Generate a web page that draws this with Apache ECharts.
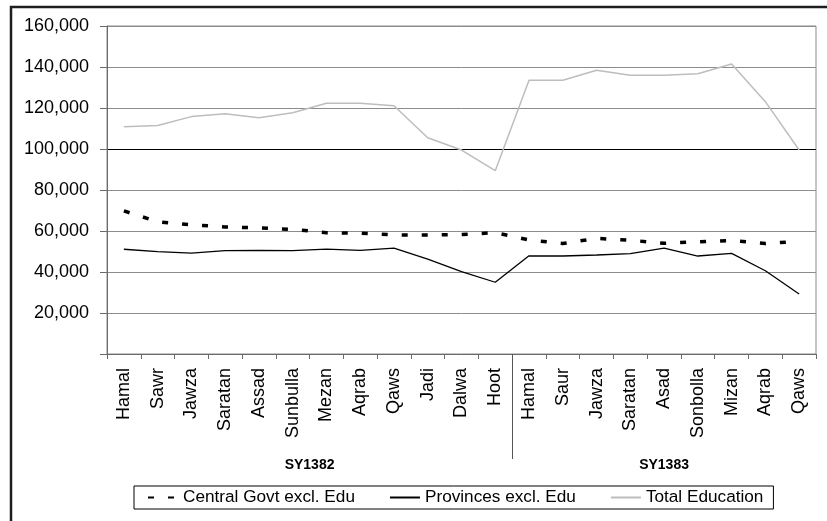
<!DOCTYPE html>
<html>
<head>
<meta charset="utf-8">
<script src="https://cdn.jsdelivr.net/npm/echarts@6/dist/echarts.min.js"></script>
<style>
  html, body { margin: 0; padding: 0; background: #fff; }
  #chart { width: 827px; height: 521px; }
</style>
</head>
<body>
<div id="chart"></div>
<script>
// Solar-year months, two fiscal years
const months1382 = ['Hamal', 'Sawr', 'Jawza', 'Saratan', 'Assad', 'Sunbulla', 'Mezan', 'Aqrab', 'Qaws', 'Jadi', 'Dalwa', 'Hoot'];
const months1383 = ['Hamal', 'Saur', 'Jawza', 'Saratan', 'Asad', 'Sonbolla', 'Mizan', 'Aqrab', 'Qaws'];
const yearLabels = ['SY1382', 'SY1383'];

// Monthly values per series (SY1382 followed by SY1383)
const centralGovt = [69800, 64500, 63000, 62000, 61500, 60800, 59200, 58900, 58100, 58000, 58300, 59200,
                     55600, 53900, 56400, 55500, 54000, 54700, 55400, 53900, 55000];
const provinces = [51100, 49900, 49200, 50400, 50500, 50400, 51200, 50500, 51600, 46300, 40200, 35000,
                   47900, 47800, 48300, 49000, 51600, 47800, 49100, 40600, 29300];
const totalEducation = [110900, 111500, 115800, 117200, 115300, 117700, 122300, 122300, 121100, 105500, 99500, 89400,
                        133500, 133500, 138400, 136000, 136000, 136700, 141500, 123100, 99500];

const seriesNames = ['Central Govt excl. Edu', 'Provinces excl. Edu', 'Total Education'];
const yMin = 0, yMax = 160000, yStep = 20000;

const categories = months1382.concat(months1383);
const FONT = "'Liberation Sans', Arial, sans-serif";

// gridline colours: the 100,000 line is drawn darker
const gridColors = [];
for (let v = yMin; v <= yMax; v += yStep) gridColors.push(v === 100000 ? '#000' : '#8c8c8c');

const chart = echarts.init(document.getElementById('chart'), null, { renderer: 'canvas' });

chart.setOption({
  backgroundColor: '#fff',
  animation: false,
  grid: {
    left: 107, right: 11, top: 26, bottom: 167,
    show: true, borderColor: '#8c8c8c', borderWidth: 1, backgroundColor: 'transparent'
  },
  xAxis: {
    type: 'category',
    data: categories,
    boundaryGap: true,
    axisLine: { lineStyle: { color: '#6a6a6a', width: 1 } },
    axisTick: { show: true, length: 5, interval: 0, lineStyle: { color: '#6a6a6a' } },
    axisLabel: {
      interval: 0, rotate: 90, margin: 14,
      fontFamily: FONT, fontSize: 18, color: '#000'
    },
    splitLine: { show: false }
  },
  yAxis: {
    type: 'value',
    min: yMin, max: yMax, interval: yStep,
    axisLine: { show: true, lineStyle: { color: '#6a6a6a', width: 1 } },
    axisTick: { show: true, length: 7, lineStyle: { color: '#6a6a6a' } },
    axisLabel: {
      margin: 18, fontFamily: FONT, fontSize: 18, color: '#000',
      formatter: v => v === 0 ? '' : v.toLocaleString('en-US')
    },
    splitLine: { show: true, lineStyle: { color: gridColors, width: 1 } }
  },
  legend: {
    data: seriesNames,
    left: 134, top: 486,
    orient: 'horizontal',
    itemWidth: 30, itemHeight: 12, itemGap: 34,
    padding: [3, 10, 3, 13],
    borderColor: '#000', borderWidth: 1,
    backgroundColor: '#fff',
    itemStyle: { opacity: 0 },
    textStyle: { fontFamily: FONT, fontSize: 17.2, color: '#000' }
  },
  series: [
    {
      name: seriesNames[0], type: 'line', data: centralGovt,
      symbol: 'none', z: 4,
      lineStyle: { color: '#000', width: 3.5, type: [6, 14] },
      itemStyle: { color: '#000', opacity: 0 }
    },
    {
      name: seriesNames[1], type: 'line', data: provinces,
      symbol: 'none', z: 3,
      lineStyle: { color: '#000', width: 1.3 },
      itemStyle: { color: '#000', opacity: 0 }
    },
    {
      name: seriesNames[2], type: 'line', data: totalEducation,
      symbol: 'none', z: 2,
      lineStyle: { color: '#bdbdbd', width: 1.5 },
      itemStyle: { color: '#bdbdbd', opacity: 0 }
    }
  ]
});

// Year grouping: separator between the two fiscal years and centred year labels
const px = i => chart.convertToPixel({ xAxisIndex: 0 }, i);
const axisY = chart.convertToPixel({ yAxisIndex: 0 }, yMin);
const n1 = months1382.length, n2 = months1383.length;
const splitX = Math.round((px(n1 - 1) + px(n1)) / 2) + 0.5;
const c1 = (px(0) + px(n1 - 1)) / 2;
const c2 = (px(n1) + px(n1 + n2 - 1)) / 2;

chart.setOption({
  graphic: [
    {
      type: 'rect', silent: true, z: 10,
      shape: { x: 11, y: 7, width: 900, height: 600 },
      style: { fill: 'none', stroke: '#1e1e1e', lineWidth: 2.5 }
    },
    {
      type: 'line', silent: true, z: 10,
      shape: { x1: splitX, y1: axisY, x2: splitX, y2: axisY + 105 },
      style: { stroke: '#555', lineWidth: 1 }
    },
    {
      type: 'text', silent: true, z: 10,
      x: c1, y: axisY + 111,
      style: { text: yearLabels[0], fontFamily: FONT, fontSize: 14, fontWeight: 'bold', fill: '#000', align: 'center', verticalAlign: 'middle' }
    },
    {
      type: 'text', silent: true, z: 10,
      x: c2, y: axisY + 111,
      style: { text: yearLabels[1], fontFamily: FONT, fontSize: 14, fontWeight: 'bold', fill: '#000', align: 'center', verticalAlign: 'middle' }
    }
  ]
});
</script>
</body>
</html>
